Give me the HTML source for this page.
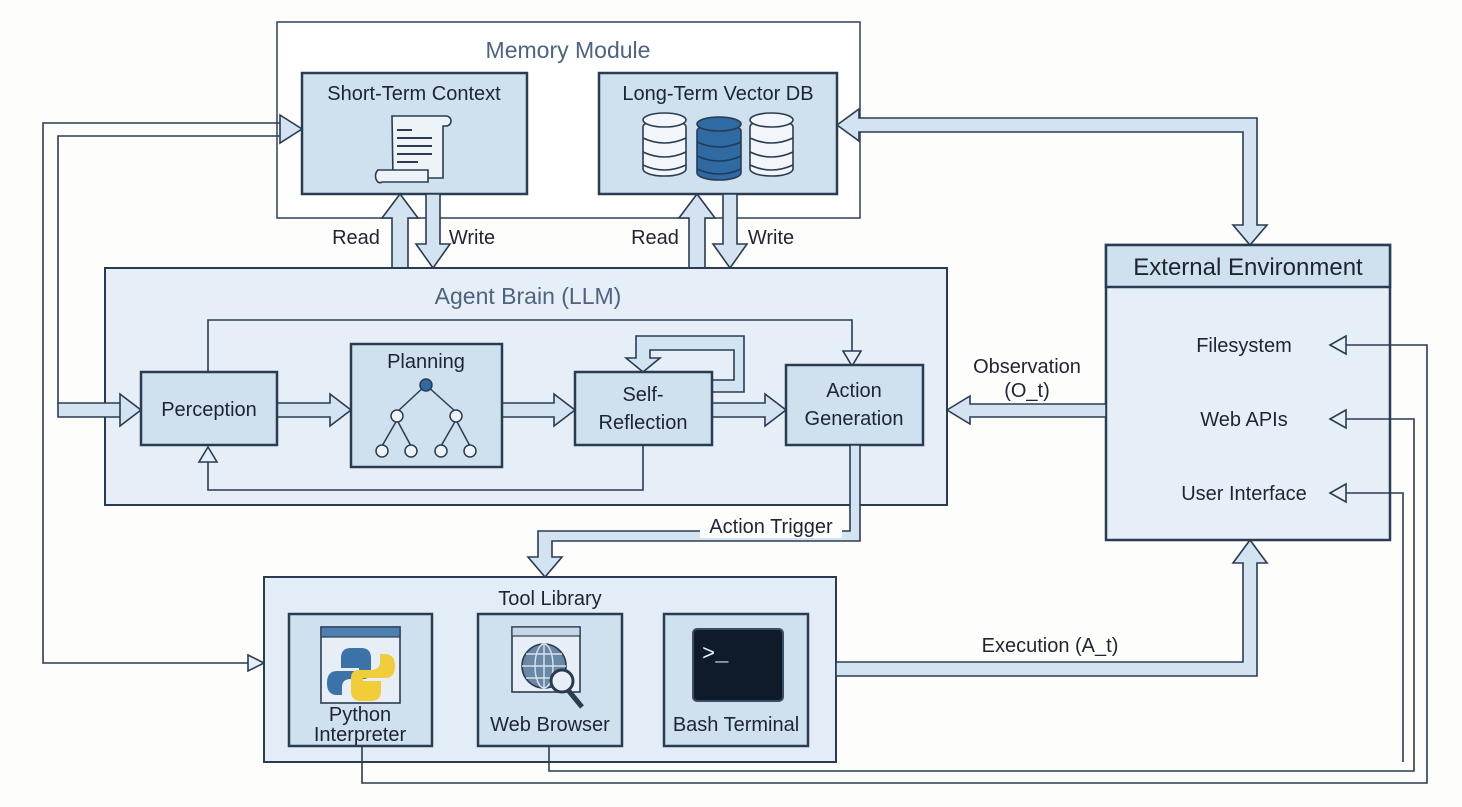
<!DOCTYPE html>
<html><head><meta charset="utf-8"><style>
html,body{margin:0;padding:0;background:#fdfdfc;}
svg{display:block;font-family:"Liberation Sans",Arial,sans-serif;}
</style></head><body>
<svg width="1462" height="807" viewBox="0 0 1462 807" xmlns="http://www.w3.org/2000/svg">
<defs>
<style>
.bx{fill:#cfe0ef;stroke:#2a3c52;stroke-width:2.5}
.ar{fill:#d3e3f1;stroke:#2a3c52;stroke-width:1.6;stroke-linejoin:miter}
.ln{fill:none;stroke:#2a3c52;stroke-width:1.6}
.oh{fill:#e6eff8;stroke:#2a3c52;stroke-width:1.6}
.t{fill:#1e2530;font-size:20px;text-anchor:middle}
.tt{fill:#4e6380;font-size:23px;text-anchor:middle}
</style>
</defs>
<!-- Memory module -->
<rect x="277" y="22" width="583" height="196" fill="#fff" stroke="#3a4e66" stroke-width="1.6"/>
<text class="tt" x="568" y="58">Memory Module</text>
<rect class="bx" x="302" y="73" width="225" height="121"/>
<text class="t" x="414" y="100">Short-Term Context</text>
<rect class="bx" x="599" y="73" width="238" height="121"/>
<text class="t" x="718" y="100">Long-Term Vector DB</text>
<!-- scroll icon -->
<g fill="#eef3f8" stroke="#2a3c52" stroke-width="1.6">
<path d="M392 116 h54 a5 5 0 0 1 0 10 h-3 v52 h-50 z"/>
<path d="M378 170 h50 v12 h-46 a4 6 0 0 1 -4 -12z"/>
</g>
<g stroke="#2a3c52" stroke-width="2"><line x1="397" y1="130" x2="412" y2="130"/><line x1="397" y1="138" x2="432" y2="138"/><line x1="397" y1="146" x2="432" y2="146"/><line x1="397" y1="154" x2="432" y2="154"/><line x1="397" y1="162" x2="418" y2="162"/></g>
<!-- DB icons -->
<g stroke="#2a3c52" stroke-width="1.6">
<g fill="#f2f6fa"><rect x="643" y="120" width="43" height="56" rx="21" ry="7"/><ellipse cx="664.5" cy="120" rx="21.5" ry="7"/></g>
<g fill="#2f6aa3"><rect x="697" y="124" width="44" height="56" rx="22" ry="7"/><ellipse cx="719" cy="124" rx="22" ry="7"/></g>
<g fill="#f2f6fa"><rect x="750" y="120" width="43" height="56" rx="21" ry="7"/><ellipse cx="771.5" cy="120" rx="21.5" ry="7"/></g>
<path fill="none" d="M643 138 q21.5 10 43 0 M643 152 q21.5 10 43 0 M643 165 q21.5 10 43 0 M750 138 q21.5 10 43 0 M750 152 q21.5 10 43 0 M750 165 q21.5 10 43 0"/>
<path fill="none" stroke="#1d3c5e" d="M697 142 q22 10 44 0 M697 156 q22 10 44 0 M697 169 q22 10 44 0"/>
</g>
<!-- Read/Write arrows -->
<polygon class="ar" points="392,268 392,218 382,218 400,194 418,218 408,218 408,268"/>
<polygon class="ar" points="426,194 426,244 416,244 433,268 450,244 440,244 440,194"/>
<polygon class="ar" points="689,268 689,218 679,218 697,194 715,218 705,218 705,268"/>
<polygon class="ar" points="723,194 723,244 713,244 730,268 747,244 737,244 737,194"/>
<text class="t" x="356" y="244">Read</text>
<text class="t" x="472" y="244">Write</text>
<text class="t" x="655" y="244">Read</text>
<text class="t" x="771" y="244">Write</text>
<!-- Agent brain -->
<rect x="105" y="268" width="842" height="237" fill="#e6eff8" stroke="#2a3c52" stroke-width="2"/>
<text class="tt" x="528" y="304">Agent Brain (LLM)</text>
<!-- inner loops -->
<polyline class="ln" points="208,372 208,320 852,320 852,352"/>
<polygon class="oh" points="843,351 861,351 852,366"/>
<polyline class="ln" points="643,445 643,490 208,490 208,460"/>
<polygon class="oh" points="199,462 217,462 208,447"/>
<!-- self loop -->
<polygon class="ar" points="712,380 734,380 734,350 650,350 650,358 660,358 643,372 626,358 636,358 636,336 744,336 744,392 712,392"/>
<!-- flow arrows -->
<polygon class="ar" points="277,403 330,403 330,394 351,410 330,426 330,417 277,417"/>
<polygon class="ar" points="502,403 554,403 554,394 575,410 554,426 554,417 502,417"/>
<polygon class="ar" points="712,403 765,403 765,394 786,410 765,426 765,417 712,417"/>
<rect class="bx" x="141" y="372" width="136" height="73"/>
<text class="t" x="209" y="416">Perception</text>
<rect class="bx" x="351" y="344" width="151" height="123"/>
<text class="t" x="426" y="368">Planning</text>
<g stroke="#2a3c52" stroke-width="1.5" fill="#eef3f8">
<line x1="426" y1="385" x2="397" y2="412"/><line x1="426" y1="385" x2="456" y2="412"/>
<line x1="397" y1="420" x2="382" y2="446"/><line x1="397" y1="420" x2="411" y2="446"/>
<line x1="456" y1="420" x2="441" y2="446"/><line x1="456" y1="420" x2="470" y2="446"/>
<circle cx="426" cy="385" r="6" fill="#2f6aa3"/>
<circle cx="397" cy="416" r="6"/><circle cx="456" cy="416" r="6"/>
<circle cx="382" cy="451" r="6"/><circle cx="411" cy="451" r="6"/><circle cx="441" cy="451" r="6"/><circle cx="470" cy="451" r="6"/>
</g>
<rect class="bx" x="575" y="372" width="137" height="73"/>
<text class="t" x="643" y="401">Self-</text>
<text class="t" x="643" y="429">Reflection</text>
<rect class="bx" x="786" y="365" width="137" height="80"/>
<text class="t" x="854" y="397">Action</text>
<text class="t" x="854" y="425">Generation</text>
<!-- left feedback lines -->
<rect x="58" y="403" width="62" height="14" fill="#d3e3f1"/>
<rect x="58" y="123" width="222" height="13" fill="#fff" opacity="0"/>
<polygon class="ar" points="280,115 302,129 280,143"/>
<polygon class="ar" points="120,394 141,410 120,426"/>
<polyline class="ln" points="248,663 43,663 43,123 280,123"/>
<polyline class="ln" points="280,136 58,136 58,403 120,403"/>
<polyline class="ln" points="58,403 58,417 120,417"/>
<polygon class="oh" points="248,655 264,663 248,671"/>
<!-- right memory <-> env -->
<polygon class="ar" points="837,125 859,109 859,118 1257,118 1257,225 1267,225 1250,245 1233,225 1243,225 1243,132 859,132 859,141"/>
<!-- External env -->
<rect x="1106" y="245" width="284" height="295" fill="#e6eff8" stroke="#2a3c52" stroke-width="2.5"/>
<rect x="1106" y="245" width="284" height="42" fill="#cfe0ef" stroke="#2a3c52" stroke-width="2.5"/>
<text x="1248" y="275" fill="#1e2530" font-size="24" text-anchor="middle">External Environment</text>
<text class="t" x="1244" y="352">Filesystem</text>
<text class="t" x="1244" y="426">Web APIs</text>
<text class="t" x="1244" y="500">User Interface</text>
<!-- observation -->
<polygon class="ar" points="1106,404 970,404 970,396 947,410 970,424 970,417 1106,417"/>
<text class="t" x="1027" y="373">Observation</text>
<text class="t" x="1027" y="397">(O_t)</text>
<!-- Action trigger -->
<polygon class="ar" points="850,445 860,445 860,541 552,541 552,557 562,557 545,577 528,557 538,557 538,531 850,531"/>
<rect x="700" y="516" width="142" height="22" fill="#fdfdfc"/>
<text class="t" x="771" y="533">Action Trigger</text>
<!-- Tool library -->
<rect x="264" y="577" width="572" height="185" fill="#e2edf7" stroke="#2a3c52" stroke-width="2"/>
<text class="t" x="550" y="605">Tool Library</text>
<rect class="bx" x="289" y="614" width="143" height="132"/>
<rect class="bx" x="478" y="614" width="144" height="132"/>
<rect class="bx" x="664" y="614" width="144" height="132"/>
<!-- python icon -->
<rect x="321" y="627" width="79" height="76" fill="#e8eef5" stroke="#2a3c52" stroke-width="1.6"/>
<rect x="321" y="627" width="79" height="10" fill="#4d7fb0" stroke="#2a3c52" stroke-width="1.2"/>
<path d="M351 648 q-10 0 -10 10 v10 h18 v3 h-22 q-10 0 -10 12 q0 12 10 12 h5 v-8 q0 -8 9 -8 h12 q8 0 8 -8 v-13 q0 -10 -10 -10z" fill="#3b72a8"/>
<path d="M371 701 q10 0 10 -10 v-10 h-18 v-3 h22 q10 0 10 -12 q0 -12 -10 -12 h-5 v8 q0 8 -9 8 h-12 q-8 0 -8 8 v13 q0 10 10 10z" fill="#f2cd3a"/>
<text class="t" x="360" y="721" font-size="17">Python</text>
<text class="t" x="360" y="741" font-size="17">Interpreter</text>
<!-- browser icon -->
<rect x="512" y="627" width="68" height="65" fill="#e8eef5" stroke="#2a3c52" stroke-width="1.6"/>
<rect x="512" y="627" width="68" height="9" fill="#c5d6e8" stroke="#2a3c52" stroke-width="1.2"/>
<circle cx="544" cy="666" r="22" fill="#6b87a6" stroke="#2a3c52" stroke-width="1.6"/>
<g fill="none" stroke="#d8e3ee" stroke-width="1.4"><ellipse cx="544" cy="666" rx="9" ry="22"/><line x1="522" y1="666" x2="566" y2="666"/><line x1="544" y1="644" x2="544" y2="688"/><path d="M526 654 h36 M526 678 h36"/></g>
<line x1="568" y1="690" x2="582" y2="707" stroke="#2a3c52" stroke-width="5"/>
<circle cx="562" cy="681" r="11" fill="#e8eef5" stroke="#2a3c52" stroke-width="3"/>
<text class="t" x="550" y="731" font-size="17">Web Browser</text>
<!-- terminal -->
<rect x="693" y="629" width="90" height="72" rx="4" fill="#0f1b2b" stroke="#3a4e66" stroke-width="2"/>
<text x="702" y="660" fill="#e8eef5" font-size="22" font-family="Liberation Mono,monospace">&gt;_</text>
<text class="t" x="736" y="731" font-size="17">Bash Terminal</text>
<!-- execution -->
<polygon class="ar" points="836,662 1243,662 1243,563 1233,563 1250,540 1267,563 1257,563 1257,676 836,676"/>
<text class="t" x="1050" y="652">Execution (A_t)</text>
<!-- return lines -->
<polyline class="ln" points="362,746 362,783 1427,783 1427,345 1345,345"/>
<polygon class="oh" points="1346,336 1330,345 1346,354"/>
<polyline class="ln" points="549,746 549,771 1414,771 1414,419 1345,419"/>
<polygon class="oh" points="1346,410 1330,419 1346,428"/>
<polyline class="ln" points="1403,762 1403,493 1345,493"/>
<polygon class="oh" points="1346,484 1330,493 1346,502"/>
</svg>
</body></html>
